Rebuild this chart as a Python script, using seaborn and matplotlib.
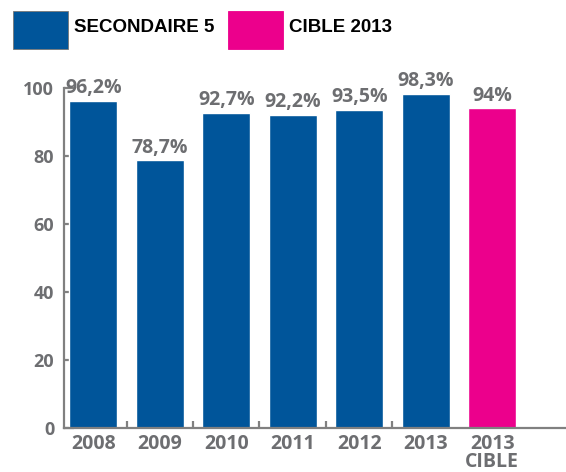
import matplotlib
matplotlib.use("Agg")
import matplotlib.pyplot as plt
import seaborn as sns
import pandas as pd
from matplotlib.patches import Rectangle

categories = ["2008", "2009", "2010", "2011", "2012", "2013", "2013\nCIBLE"]
values = [96.2, 78.7, 92.7, 92.2, 93.5, 98.3, 94.0]
series = ["SECONDAIRE 5"] * 6 + ["CIBLE 2013"]
value_labels = ["96,2%", "78,7%", "92,7%", "92,2%", "93,5%", "98,3%", "94%"]
legend_names = ["SECONDAIRE 5", "CIBLE 2013"]
y_ticks = [0, 20, 40, 60, 80, 100]

BLUE = "#00559a"
PINK = "#ec008c"
GREY = "#6d6e71"
AXGREY = "#808080"

sns.set_theme(style="white")
plt.rcParams['font.family'] = ['Open Sans', 'DejaVu Sans']

df = pd.DataFrame({"cat": categories, "val": values, "series": series})

W, H = 566, 472
fig = plt.figure(figsize=(W / 100, H / 100), dpi=100)
ax = fig.add_axes([64 / W, (H - 428) / H, (W - 64) / W, 340 / H])

sns.barplot(data=df, x="cat", y="val", hue="series", order=categories,
            hue_order=legend_names, palette=[BLUE, PINK], dodge=False,
            width=0.72, legend=False, saturation=1, ax=ax)

ax.set_ylim(0, 100)
ax.set_xlim(-0.44, 7.11)
ax.set_xlabel("")
ax.set_ylabel("")

for sp in ["top", "right"]:
    ax.spines[sp].set_visible(False)
for sp in ["left", "bottom"]:
    ax.spines[sp].set_color(AXGREY)
    ax.spines[sp].set_linewidth(1.6)

ax.set_yticks(y_ticks)
ax.set_yticklabels([str(v) for v in y_ticks])
ax.tick_params(axis="y", direction="in", length=7, width=1.6, color=AXGREY,
               pad=7, labelsize=13, labelcolor=GREY, left=True)
for t in ax.get_yticklabels():
    t.set_fontweight("bold")

ax.set_xticks(range(len(categories)))
ax.set_xticklabels(categories, linespacing=0.92)
ax.tick_params(axis="x", which="major", length=0, pad=4, labelsize=14,
               labelcolor=GREY)
for t in ax.get_xticklabels():
    t.set_fontweight("bold")
ax.set_xticks([0.5, 1.5, 2.5, 3.5, 4.5], minor=True)
ax.tick_params(axis="x", which="minor", direction="in", length=5, width=1.6,
               color=AXGREY, bottom=True)

# value labels
for cont in ax.containers:
    labs = []
    for bar in cont:
        idx = int(round(bar.get_x() + bar.get_width() / 2))
        labs.append(value_labels[idx] if bar.get_height() > 0 else "")
    ax.bar_label(cont, labels=labs, padding=2, color=GREY, fontsize=14,
                 fontweight="bold", clip_on=False)

# legend
leg_colors = [BLUE, PINK]
leg_x = [13, 228]
for name, col, x0 in zip(legend_names, leg_colors, leg_x):
    fig.patches.append(Rectangle((x0 / W, (H - 49) / H), 55 / W, 38 / H,
                                 transform=fig.transFigure, facecolor=col,
                                 edgecolor="#777777" if col == BLUE else col,
                                 linewidth=0.6))
    fig.text((x0 + 61) / W, (H - 28) / H, name, ha="left", va="center",
             fontsize=13.5, fontweight="bold", color="black",
             family=['Liberation Sans', 'DejaVu Sans'])

fig.savefig("out.png", dpi=100)
